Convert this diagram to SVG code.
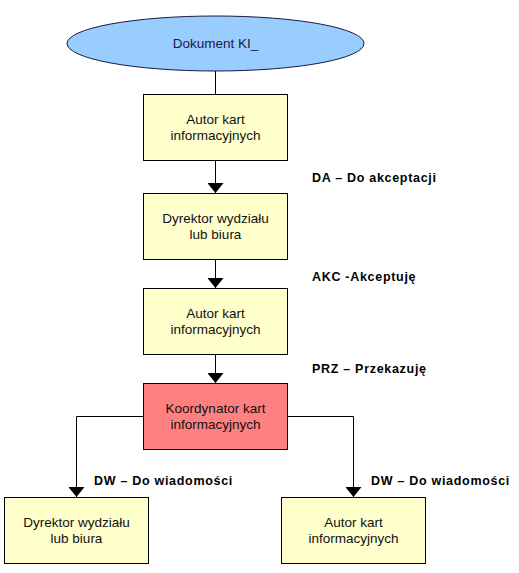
<svg xmlns="http://www.w3.org/2000/svg" width="519" height="573" viewBox="0 0 519 573">
<style>
.box{fill:#ffffcc;stroke:#000;stroke-width:1}
.red{fill:#ff8080;stroke:#000;stroke-width:1}
.ell{fill:#99ccff;stroke:#1a1a40;stroke-width:1}
.t{font-family:"Liberation Sans",Arial,sans-serif;font-size:13.5px;fill:#111;text-anchor:middle}
.lbl{font-family:"Liberation Sans",Arial,sans-serif;font-size:12.5px;font-weight:bold;fill:#000;letter-spacing:0.7px}
.c{fill:none;stroke:#000;stroke-width:1}
</style>
<defs>
<marker id="arr" viewBox="0 0 10 16" refX="10" refY="8" markerWidth="10" markerHeight="16" markerUnits="userSpaceOnUse" orient="auto">
<path d="M0,0 L10,8 L0,16 Z" fill="#000"/>
</marker>
</defs>
<rect width="519" height="573" fill="#fff"/>
<g id="connectors">
<line class="c" x1="215.5" y1="71" x2="215.5" y2="94"/>
<line class="c" x1="215.5" y1="160" x2="215.5" y2="193" marker-end="url(#arr)"/>
<line class="c" x1="215.5" y1="259" x2="215.5" y2="288" marker-end="url(#arr)"/>
<line class="c" x1="215.5" y1="354" x2="215.5" y2="383" marker-end="url(#arr)"/>
<polyline class="c" points="143,416.5 76.5,416.5 76.5,497" marker-end="url(#arr)"/>
<polyline class="c" points="287,416.5 353.5,416.5 353.5,497" marker-end="url(#arr)"/>
<text class="lbl" x="312" y="182">DA – Do akceptacji</text>
<text class="lbl" x="312" y="281">AKC -Akceptuję</text>
<text class="lbl" x="312" y="373">PRZ – Przekazuję</text>
<text class="lbl" x="94" y="485">DW – Do wiadomości</text>
<text class="lbl" x="371" y="485">DW – Do wiadomości</text>
</g>
<g id="dokument">
<ellipse class="ell" cx="215.5" cy="43.5" rx="148.5" ry="27.5"/>
<text class="t" x="215.5" y="48" style="fill:#1a1a40">Dokument KI_</text>
</g>
<g id="autor1">
<rect class="box" x="143.5" y="94.5" width="144" height="66"/>
<text class="t" x="215.5" y="124">Autor kart</text>
<text class="t" x="215.5" y="139.5">informacyjnych</text>
</g>
<g id="dyrektor1">
<rect class="box" x="143.5" y="193.5" width="144" height="66"/>
<text class="t" x="215.5" y="223">Dyrektor wydziału</text>
<text class="t" x="215.5" y="238.5">lub biura</text>
</g>
<g id="autor2">
<rect class="box" x="143.5" y="288.5" width="144" height="66"/>
<text class="t" x="215.5" y="318">Autor kart</text>
<text class="t" x="215.5" y="333.5">informacyjnych</text>
</g>
<g id="koordynator">
<rect class="red" x="143.5" y="383.5" width="144" height="66"/>
<text class="t" x="215.5" y="413">Koordynator kart</text>
<text class="t" x="215.5" y="428.5">informacyjnych</text>
</g>
<g id="dyrektor2">
<rect class="box" x="4.5" y="497.5" width="144" height="66"/>
<text class="t" x="76.5" y="527">Dyrektor wydziału</text>
<text class="t" x="76.5" y="542.5">lub biura</text>
</g>
<g id="autor3">
<rect class="box" x="281.5" y="497.5" width="144" height="66"/>
<text class="t" x="353.5" y="527">Autor kart</text>
<text class="t" x="353.5" y="542.5">informacyjnych</text>
</g>
</svg>
